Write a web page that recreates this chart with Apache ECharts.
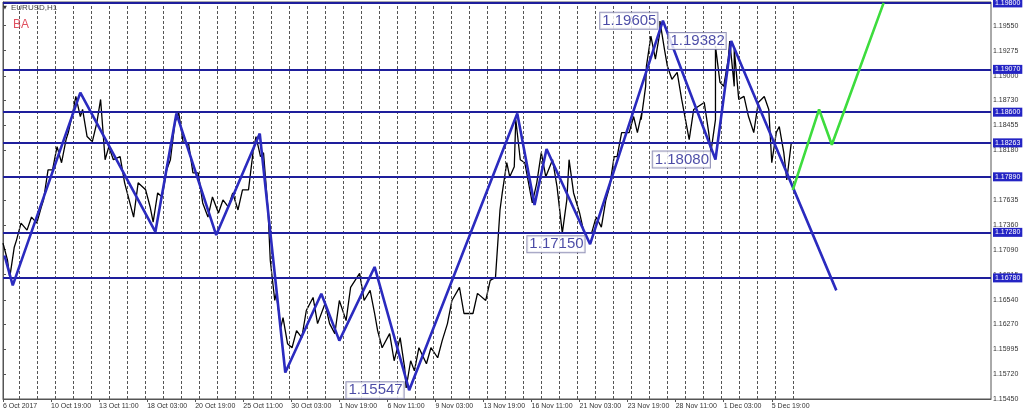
<!DOCTYPE html>
<html><head><meta charset="utf-8">
<script src="https://cdn.jsdelivr.net/npm/echarts@6/dist/echarts.min.js"></script>
<style>html,body{margin:0;padding:0;background:#fff}#c{width:1024px;height:418px}</style>
</head><body><div id="c"></div>
<script>
// time axis labels, one every 64 H1 bars starting at bar 0
const timeLabels = ['6 Oct 2017','10 Oct 19:00','13 Oct 11:00','18 Oct 03:00','20 Oct 19:00','25 Oct 11:00','30 Oct 03:00','1 Nov 19:00','6 Nov 11:00','9 Nov 03:00','13 Nov 19:00','16 Nov 11:00','21 Nov 03:00','23 Nov 19:00','28 Nov 11:00','1 Dec 03:00','5 Dec 19:00'];
const timeLabelStep = 64;
// price axis tick labels
const priceTickLabels = ['1.19550','1.19275','1.19000','1.18730','1.18455','1.18180','1.17635','1.17360','1.17090','1.16815','1.16540','1.16270','1.15995','1.15720','1.15450'];
// horizontal level lines
const levelLines = [1.19800,1.19070,1.18600,1.18263,1.17890,1.17280,1.16780];
// price bars (bar index, high, low)
const barIndex = [3,12,21,35,48,57,69,81,90,100,109,122,133,144,159,177,193,203,215,226,237,250,263,276,290,303,316,330,340,350,359,367,376,388,401,416,432,445,460,478,492,502,518,532,540,551,567,582,595,611,629,646,659,668,678,686,698,708,720,735,748,757,771,787,800,811,821,837,848,853,860,872,878,888,901,917,937,946,952,963,971,977,990,1003,1017,1027,1037,1047];
const barHigh = [1.17161,1.17117,1.17382,1.17448,1.17559,1.17967,1.18221,1.18299,1.18597,1.18773,1.18630,1.18486,1.18740,1.18221,1.18111,1.17824,1.17747,1.17713,1.17967,1.18486,1.18597,1.18265,1.17934,1.17669,1.17636,1.17713,1.17747,1.18155,1.18332,1.18155,1.16974,1.16610,1.16344,1.16201,1.16422,1.16565,1.16499,1.16532,1.16676,1.16830,1.16643,1.16201,1.16168,1.16124,1.15870,1.16013,1.16013,1.16091,1.16532,1.16676,1.16610,1.16753,1.17526,1.18045,1.18000,1.18519,1.18045,1.17824,1.18155,1.18078,1.17636,1.18078,1.17493,1.17448,1.17636,1.18111,1.18376,1.18552,1.18597,1.18884,1.19436,1.19480,1.19601,1.19104,1.19038,1.18630,1.18707,1.18519,1.19325,1.19182,1.19382,1.19292,1.18773,1.18707,1.18773,1.18376,1.18442,1.18265];
const barLow = [1.16974,1.16786,1.17195,1.17305,1.17382,1.17636,1.17967,1.18045,1.18376,1.18552,1.18332,1.18276,1.18078,1.18078,1.17824,1.17448,1.17559,1.17393,1.17669,1.18078,1.18265,1.17934,1.17603,1.17448,1.17493,1.17559,1.17526,1.17747,1.18111,1.17526,1.16532,1.16234,1.16057,1.16013,1.16124,1.16278,1.16278,1.16168,1.16311,1.16532,1.16389,1.16013,1.15870,1.15792,1.15572,1.15759,1.15837,1.15903,1.16278,1.16389,1.16389,1.16532,1.16786,1.17713,1.17890,1.18078,1.17780,1.17603,1.17890,1.17780,1.17272,1.17713,1.17272,1.17272,1.17338,1.17780,1.18111,1.18376,1.18376,1.18519,1.19104,1.19182,1.19292,1.18961,1.18740,1.18299,1.18376,1.18166,1.18928,1.18884,1.18884,1.18740,1.18552,1.18376,1.18630,1.18045,1.18155,1.17857];
// blue wave (zigzag)
const waveBars = [2,13,103,203,231,284,342,376,424,448,495,541,685,708,724,782,879,949,970,1110];
const wavePrices = [1.17026,1.16698,1.18814,1.17286,1.18586,1.17250,1.18365,1.15741,1.16606,1.16091,1.16900,1.15547,1.18586,1.17581,1.18196,1.17150,1.19605,1.18080,1.19382,1.16643];
const waveLabels = ['','','','','','','','','','','','1.15547','','','','1.17150','1.19605','1.18080','1.19382',''];
// green forecast
const forecastBars = [1052,1087,1104,1173];
const forecastPrices = [1.17747,1.18630,1.18243,1.19800];
// day separators
const daySepStart = 21, daySepStep = 24, daySepCount = 44;

const xMax = 1316;
const pricePath = [];
for (let i = 0; i < barIndex.length; i++) {
  const mid = (barHigh[i] + barLow[i]) / 2;
  const nextMid = i + 1 < barIndex.length ? (barHigh[i+1] + barLow[i+1]) / 2 : mid;
  if (nextMid >= mid) { pricePath.push([barIndex[i]-3, barLow[i]], [barIndex[i]+3, barHigh[i]]); }
  else { pricePath.push([barIndex[i]-3, barHigh[i]], [barIndex[i]+3, barLow[i]]); }
}
const sepData = [];
for (let k = 0; k < daySepCount; k++) sepData.push({ xAxis: daySepStart + daySepStep * k });
const levelData = levelLines.map(v => [{ coord: [0, v], name: v.toFixed(5) }, { coord: [xMax, v] }]);

const font = 'Liberation Sans';
const chart = echarts.init(document.getElementById('c'), null, { renderer: 'canvas' });
chart.setOption({
  animation: false,
  backgroundColor: '#fff',
  grid: { left: 0, right: 33, top: 2, bottom: 19, show: true, borderColor: '#555', borderWidth: 1 },
  xAxis: {
    type: 'value', min: 0, max: xMax,
    axisLine: { show: true, lineStyle: { color: '#555' } },
    axisTick: { show: true, length: 3, lineStyle: { color: '#555' }, customValues: timeLabels.map((t, i) => i * timeLabelStep) },
    axisLabel: { show: true, customValues: timeLabels.map((t, i) => i * timeLabelStep), align: 'left', margin: 4,
      fontSize: 7, fontFamily: font, color: '#333',
      formatter: v => timeLabels[Math.round(v / timeLabelStep)] || '' },
    splitLine: { show: false }
  },
  yAxis: {
    type: 'value', position: 'right', min: 1.1545, max: 1.1981,
    axisLine: { show: true, lineStyle: { color: '#555' } },
    axisTick: { show: true, length: 3, lineStyle: { color: '#555' }, customValues: priceTickLabels.map(Number) },
    axisLabel: { show: true, customValues: priceTickLabels.map(Number), margin: 2, fontSize: 7, fontFamily: font, color: '#333',
      formatter: v => priceTickLabels.find(s => Math.abs(Number(s) - v) < 1e-7) || '' },
    splitLine: { show: false }
  },
  graphic: [
    { type: 'text', z: 100, left: 3, top: 5, style: { text: '▼', fontSize: 5, fontFamily: 'DejaVu Sans', fill: '#333' } },
    { type: 'text', z: 100, left: 11, top: 4, style: { text: 'EURUSD,H1', fontSize: 8, fontFamily: font, fill: '#444' } },
    { type: 'text', z: 100, left: 13, top: 19, style: { text: 'BA', fontSize: 12, fontFamily: font, fill: '#e0505f' } }
  ],
  series: [
    { type: 'line', data: [], z: 1, silent: true,
      markLine: { silent: true, symbol: 'none', animation: false, label: { show: false },
        lineStyle: { type: [3, 2], color: '#555', width: 1 }, data: sepData } },
    { type: 'line', name: 'price', data: pricePath, z: 3, symbol: 'none', silent: true,
      lineStyle: { color: '#000', width: 1.3 } },
    { type: 'line', data: [], z: 4, silent: true,
      markLine: { silent: true, symbol: 'none', animation: false, precision: 5,
        lineStyle: { type: 'solid', color: '#1e1e9c', width: 2 },
        label: { show: true, position: 'end', distance: 2, formatter: p => p.name,
          backgroundColor: '#2424c4', color: '#fff', fontSize: 7, fontFamily: font, padding: [1, 2, 1, 2] },
        data: levelData } },
    { type: 'line', name: 'wave', data: waveBars.map((b, i) => [b, wavePrices[i]]), z: 5, symbol: 'none', silent: true,
      lineStyle: { color: '#2b2bbf', width: 2.6 } },
    { type: 'line', name: 'forecast', data: forecastBars.map((b, i) => [b, forecastPrices[i]]), z: 5, symbol: 'none', silent: true,
      lineStyle: { color: '#3ddc3d', width: 2.6 } },
    { type: 'scatter', z: 6, silent: true, symbolSize: 1, itemStyle: { color: 'rgba(0,0,0,0)' },
      data: waveBars.map((b, i) => ({ value: [b, wavePrices[i]], label: waveLabels[i] })).filter(d => d.label)
        .map(d => ({ value: d.value, name: d.label })),
      label: { show: true, position: 'left', distance: 5, formatter: p => p.name,
        backgroundColor: '#fff', borderColor: '#7a7aa8', borderWidth: 1, padding: [1, 1, 0, 2],
        color: '#1e1e90', fontSize: 15, fontFamily: font } }
  ]
});
</script>
</body></html>
